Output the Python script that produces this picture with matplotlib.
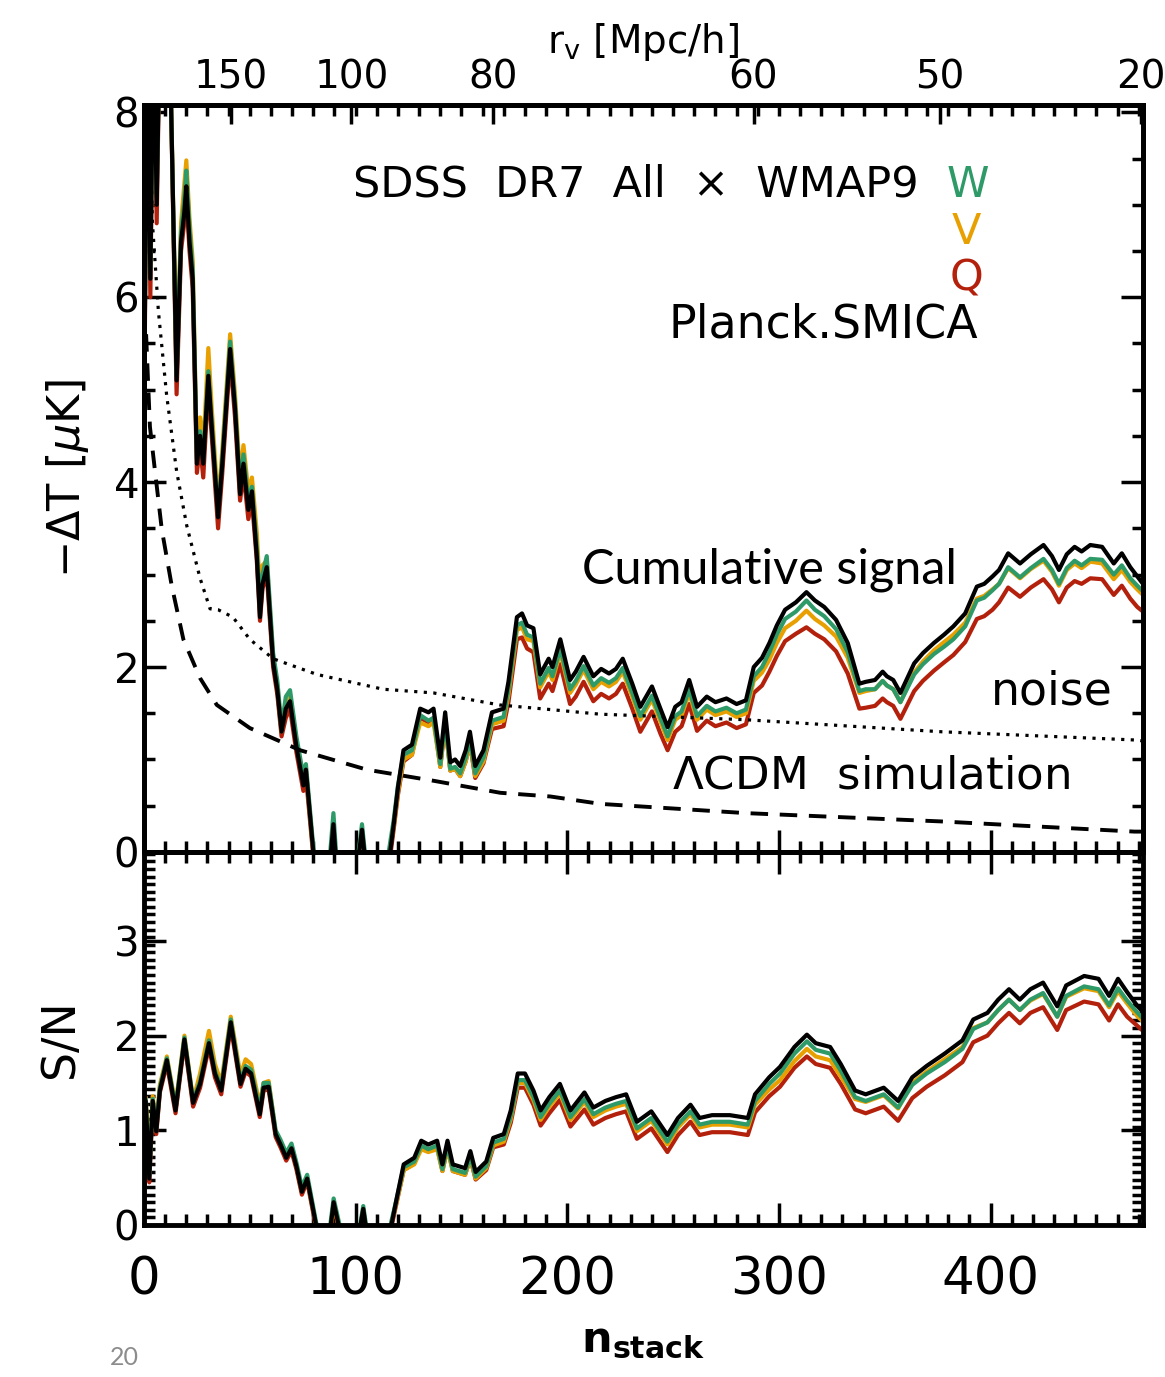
import numpy as np
import matplotlib.pyplot as plt
from matplotlib.ticker import MultipleLocator

# ---- data ----
# top panel: cumulative -dT [muK] vs n_stack
n_top = [0.0, 1.5, 3.0, 4.5, 6.0, 7.5, 9.5, 12.0, 15.4, 17.5, 19.0, 20.0, 21.5, 23.0, 25.0,
         26.5, 28.0, 30.4, 32.0, 35.0, 37.0, 40.7, 43.0, 45.4, 47.0, 49.3, 51.0, 53.3, 54.8,
         56.0, 58.0, 61.0, 63.0, 65.0, 67.0, 69.0, 72.0, 75.3, 76.5, 80.0, 82.0, 88.0, 89.5,
         91.0, 100.0, 103.0, 105.0, 114.0, 116.3, 118.0, 120.0, 122.6, 126.6, 128.0, 130.5,
         134.4, 136.8, 140.0, 142.3, 144.7, 147.0, 149.4, 152.0, 154.0, 156.5, 160.4, 164.4,
         169.9, 172.2, 176.2, 178.6, 181.0, 184.0, 187.2, 191.2, 193.0, 196.7, 201.3, 204.0,
         207.7, 212.3, 216.0, 219.7, 223.0, 226.2, 230.7, 234.5, 240.0, 244.0, 247.4, 251.0,
         254.0, 257.6, 261.3, 265.9, 270.0, 275.2, 280.0, 284.4, 288.1, 292.0, 295.5, 299.0,
         302.9, 308.0, 313.0, 317.0, 321.4, 327.0, 332.5, 338.0, 341.0, 345.4, 349.0, 351.0,
         354.0, 357.4, 363.9, 368.0, 373.2, 378.0, 382.4, 388.0, 393.5, 397.0, 400.9, 404.0,
         408.3, 413.9, 419.0, 425.0, 429.0, 432.3, 436.0, 439.7, 443.0, 447.1, 452.7, 458.2,
         462.0, 466.0, 469.3, 472.0]
dT_planck = [4.5, 9.0, 6.2, 9.0, 7.0, 9.0, 8.3, 9.0, 5.1, 6.6, 6.9, 7.2, 6.6, 6.2, 4.2,
             4.5, 4.2, 5.15, 4.6, 3.62, 4.2, 5.44, 4.8, 3.87, 4.2, 3.7, 3.9, 3.2, 2.54,
             2.9, 3.08, 2.05, 1.75, 1.30, 1.55, 1.63, 1.14, 0.72, 0.89, 0.0, -0.4, -0.1, 0.3,
             -0.2, -0.3, 0.24, -0.2, -0.3, 0.0, 0.3, 0.7, 1.1, 1.16, 1.3, 1.55,
             1.51, 1.55, 1.02, 1.51, 0.97, 1.0, 0.93, 1.1, 1.30, 0.93, 1.10, 1.51,
             1.55, 1.84, 2.54, 2.58, 2.45, 2.42, 1.92, 2.09, 2.0, 2.30, 1.86, 1.95,
             2.11, 1.90, 1.98, 1.93, 1.98, 2.09, 1.82, 1.57, 1.79, 1.55, 1.35, 1.57,
             1.62, 1.86, 1.57, 1.68, 1.62, 1.66, 1.60, 1.64, 2.0, 2.1, 2.26, 2.45,
             2.62, 2.70, 2.81, 2.72, 2.65, 2.51, 2.26, 1.82, 1.84, 1.86, 1.95, 1.90,
             1.86, 1.72, 2.04, 2.15, 2.26, 2.35, 2.44, 2.58, 2.87, 2.90, 2.98, 3.05,
             3.23, 3.12, 3.22, 3.32, 3.2, 3.05, 3.22, 3.30, 3.25, 3.32, 3.30, 3.12,
             3.23, 3.08, 2.98, 2.9]
dT_W = [4.55, 9.0, 6.3, 9.0, 7.1, 9.0, 8.4, 9.0, 5.15, 6.7, 7.05, 7.37, 6.75, 6.3, 4.25,
        4.55, 4.25, 5.2, 4.65, 3.65, 4.25, 5.52, 4.85, 3.95, 4.3, 3.8, 3.95, 3.3, 2.65,
        3.0, 3.2, 2.15, 1.85, 1.35, 1.68, 1.75, 1.25, 0.82, 0.95, 0.05, -0.35, 0.0, 0.42,
        -0.1, -0.25, 0.3, -0.15, -0.25, 0.1, 0.35, 0.72, 1.05, 1.1, 1.22, 1.48,
        1.42, 1.45, 0.95, 1.42, 0.9, 0.92, 0.85, 1.02, 1.22, 0.85, 1.02, 1.42,
        1.46, 1.75, 2.45, 2.48, 2.35, 2.32, 1.82, 1.99, 1.9, 2.2, 1.76, 1.85,
        2.01, 1.8, 1.88, 1.83, 1.88, 1.99, 1.72, 1.47, 1.69, 1.45, 1.25, 1.47,
        1.52, 1.76, 1.47, 1.58, 1.52, 1.56, 1.5, 1.54, 1.9, 2.0, 2.16, 2.35,
        2.52, 2.6, 2.72, 2.62, 2.55, 2.41, 2.16, 1.74, 1.76, 1.76, 1.85, 1.8,
        1.76, 1.62, 1.92, 2.03, 2.14, 2.22, 2.3, 2.44, 2.72, 2.75, 2.83, 2.9,
        3.08, 2.97, 3.07, 3.17, 3.05, 2.9, 3.07, 3.15, 3.1, 3.17, 3.16, 3.0,
        3.1, 2.96, 2.88, 2.82]
dT_V = [4.6, 9.0, 6.4, 9.0, 7.2, 9.0, 8.5, 9.0, 5.2, 6.8, 7.2, 7.48, 6.85, 6.4, 4.3,
        4.7, 4.35, 5.45, 4.8, 3.75, 4.35, 5.6, 4.95, 4.05, 4.4, 3.9, 4.05, 3.45, 2.8,
        3.1, 3.15, 2.1, 1.8, 1.3, 1.6, 1.7, 1.18, 0.75, 0.9, 0.0, -0.4, -0.1, 0.3,
        -0.2, -0.3, 0.2, -0.2, -0.3, 0.05, 0.28, 0.65, 1.0, 1.05, 1.18, 1.4,
        1.36, 1.4, 0.92, 1.38, 0.88, 0.9, 0.82, 0.98, 1.18, 0.82, 0.98, 1.38,
        1.42, 1.7, 2.4, 2.43, 2.3, 2.28, 1.78, 1.95, 1.86, 2.16, 1.72, 1.81,
        1.97, 1.76, 1.84, 1.79, 1.84, 1.95, 1.68, 1.43, 1.65, 1.41, 1.21, 1.43,
        1.48, 1.72, 1.43, 1.54, 1.48, 1.52, 1.46, 1.5, 1.85, 1.94, 2.08, 2.26,
        2.42, 2.5, 2.61, 2.52, 2.45, 2.33, 2.1, 1.72, 1.74, 1.76, 1.85, 1.8,
        1.76, 1.62, 1.94, 2.06, 2.18, 2.27, 2.35, 2.48, 2.74, 2.77, 2.84, 2.9,
        3.07, 2.96, 3.06, 3.15, 3.03, 2.88, 3.05, 3.12, 3.07, 3.14, 3.12, 2.95,
        3.05, 2.92, 2.84, 2.78]
dT_Q = [4.3, 9.0, 6.0, 9.0, 6.8, 9.0, 8.1, 9.0, 4.95, 6.5, 6.8, 7.1, 6.5, 6.1, 4.1,
        4.4, 4.05, 5.05, 4.5, 3.5, 4.1, 5.35, 4.7, 3.8, 4.1, 3.6, 3.8, 3.15, 2.5,
        2.85, 3.0, 2.0, 1.7, 1.25, 1.45, 1.55, 1.08, 0.66, 0.82, -0.05, -0.45, -0.15, 0.25,
        -0.25, -0.35, 0.18, -0.25, -0.35, -0.05, 0.25, 0.62, 0.98, 1.05, 1.2, 1.45,
        1.4, 1.45, 0.92, 1.4, 0.88, 0.9, 0.82, 0.98, 1.18, 0.8, 0.96, 1.33,
        1.36, 1.62, 2.3, 2.32, 2.2, 2.16, 1.66, 1.82, 1.74, 2.03, 1.6, 1.68,
        1.84, 1.63, 1.71, 1.66, 1.71, 1.82, 1.55, 1.3, 1.52, 1.28, 1.1, 1.3,
        1.36, 1.6, 1.31, 1.42, 1.36, 1.4, 1.34, 1.38, 1.72, 1.8, 1.95, 2.12,
        2.28, 2.36, 2.43, 2.36, 2.3, 2.17, 1.93, 1.55, 1.56, 1.58, 1.66, 1.62,
        1.58, 1.44, 1.74, 1.85, 1.96, 2.05, 2.13, 2.27, 2.52, 2.55, 2.62, 2.7,
        2.86, 2.76, 2.86, 2.95, 2.84, 2.7, 2.86, 2.93, 2.9, 2.96, 2.95, 2.78,
        2.88, 2.74, 2.65, 2.6]

n_noise = [2, 4, 6.8, 10.7, 15.4, 20.2, 26.5, 31.2, 35, 42, 50, 61, 81.7, 113, 136.8, 168,
           192, 215.6, 284.4, 376.8, 469.3, 472]
noise = [8.6, 6.8, 5.85, 4.94, 4.12, 3.53, 2.96, 2.63, 2.62, 2.54, 2.30, 2.09, 1.92, 1.76,
         1.72, 1.59, 1.54, 1.49, 1.43, 1.30, 1.21, 1.20]
n_lcdm = [1, 2.8, 5.2, 8.4, 13.1, 18.6, 26.5, 34.4, 50, 73.8, 105.3, 136.8, 168.3, 192,
          215.6, 284.4, 376.8, 468, 472]
lcdm = [5.6, 4.6, 4.12, 3.49, 2.88, 2.30, 1.88, 1.59, 1.34, 1.10, 0.89, 0.77, 0.64, 0.60,
        0.52, 0.42, 0.33, 0.22, 0.22]

# bottom panel: S/N vs n_stack
n_sn = [0.0, 0.8, 2.5, 4.1, 5.8, 7.5, 10.8, 14.9, 19.1, 23.2, 26.5, 30.7, 33.5, 36.5, 41.0,
        45.6, 48.0, 50.6, 54.7, 56.5, 58.9, 62.2, 64.5, 67.2, 69.7, 72.0, 74.6, 77.1, 81.3,
        85.0, 88.0, 89.6, 92.9, 100.0, 103.6, 105.3, 114.0, 116.9, 119.4, 122.7, 127.7,
        131.0, 134.3, 138.5, 141.0, 143.4, 145.9, 151.7, 154.2, 156.7, 161.7, 165.0, 170.0,
        173.3, 176.6, 180.0, 184.0, 187.4, 191.5, 196.5, 201.5, 208.1, 212.3, 218.0, 223.0,
        227.8, 232.9, 239.7, 247.3, 252.3, 258.2, 262.5, 268.4, 276.8, 285.3, 288.7, 295.4,
        300.5, 307.3, 313.2, 317.4, 324.2, 329.2, 336.0, 341.0, 349.5, 356.3, 363.0, 369.8,
        378.3, 386.7, 391.8, 398.5, 403.6, 408.7, 413.8, 418.8, 424.8, 431.5, 435.7, 444.2,
        451.0, 456.0, 460.2, 464.5, 469.5, 472.0]
sn_planck = [0.24, 1.31, 0.49, 1.31, 0.99, 1.42, 1.74, 1.21, 1.96, 1.29, 1.49, 1.92, 1.6, 1.42, 2.14,
             1.49, 1.65, 1.6, 1.17, 1.45, 1.46, 0.96, 0.85, 0.71, 0.81, 0.62, 0.35, 0.49, 0.0,
             -0.3, -0.05, 0.24, -0.1, -0.3, 0.17, -0.1, -0.3, 0.0, 0.28, 0.64, 0.71,
             0.89, 0.85, 0.89, 0.64, 0.89, 0.64, 0.6, 0.78, 0.56, 0.67, 0.92, 0.96,
             1.21, 1.6, 1.6, 1.42, 1.21, 1.35, 1.49, 1.21, 1.40, 1.24, 1.31, 1.35,
             1.38, 1.09, 1.2, 0.95, 1.13, 1.27, 1.13, 1.16, 1.16, 1.13, 1.38, 1.56,
             1.67, 1.88, 2.01, 1.92, 1.88, 1.70, 1.42, 1.38, 1.45, 1.31, 1.56, 1.68,
             1.81, 1.95, 2.17, 2.24, 2.38, 2.49, 2.38, 2.49, 2.56, 2.31, 2.53, 2.63,
             2.60, 2.42, 2.60, 2.46, 2.31, 2.25]
sn_W = [0.28, 1.33, 0.52, 1.33, 1.02, 1.45, 1.76, 1.24, 1.98, 1.31, 1.52, 1.95, 1.63, 1.45, 2.17,
        1.52, 1.68, 1.64, 1.22, 1.5, 1.5, 1.0, 0.9, 0.76, 0.86, 0.66, 0.4, 0.53, 0.03,
        -0.28, 0.0, 0.28, -0.05, -0.28, 0.2, -0.06, -0.28, 0.04, 0.28, 0.61, 0.67,
        0.84, 0.8, 0.84, 0.59, 0.84, 0.59, 0.55, 0.73, 0.51, 0.62, 0.87, 0.91,
        1.15, 1.53, 1.53, 1.35, 1.14, 1.28, 1.42, 1.14, 1.33, 1.17, 1.24, 1.28,
        1.31, 1.02, 1.13, 0.88, 1.06, 1.2, 1.06, 1.09, 1.09, 1.06, 1.31, 1.49,
        1.6, 1.81, 1.94, 1.85, 1.81, 1.63, 1.35, 1.31, 1.38, 1.24, 1.48, 1.6,
        1.72, 1.86, 2.07, 2.14, 2.27, 2.38, 2.27, 2.38, 2.45, 2.2, 2.42, 2.52,
        2.49, 2.32, 2.5, 2.37, 2.24, 2.18]
sn_V = [0.3, 1.35, 0.55, 1.36, 1.05, 1.48, 1.78, 1.26, 2.0, 1.32, 1.6, 2.05, 1.7, 1.5, 2.2,
        1.58, 1.75, 1.7, 1.27, 1.5, 1.52, 0.98, 0.87, 0.72, 0.82, 0.63, 0.36, 0.5, 0.0,
        -0.3, -0.05, 0.22, -0.1, -0.3, 0.15, -0.1, -0.3, 0.02, 0.25, 0.58, 0.64,
        0.8, 0.77, 0.8, 0.57, 0.8, 0.57, 0.53, 0.7, 0.49, 0.6, 0.84, 0.88,
        1.12, 1.5, 1.5, 1.32, 1.11, 1.25, 1.39, 1.11, 1.3, 1.14, 1.21, 1.25,
        1.28, 0.99, 1.1, 0.85, 1.03, 1.17, 1.03, 1.06, 1.06, 1.03, 1.27, 1.43,
        1.53, 1.73, 1.86, 1.78, 1.74, 1.57, 1.33, 1.3, 1.37, 1.23, 1.5, 1.62,
        1.75, 1.88, 2.08, 2.14, 2.27, 2.38, 2.27, 2.37, 2.44, 2.2, 2.41, 2.5,
        2.47, 2.3, 2.47, 2.34, 2.2, 2.15]
sn_Q = [0.2, 1.3, 0.45, 1.28, 0.96, 1.4, 1.7, 1.18, 1.93, 1.25, 1.45, 1.88, 1.56, 1.38, 2.1,
        1.46, 1.62, 1.57, 1.14, 1.42, 1.43, 0.93, 0.82, 0.68, 0.78, 0.59, 0.32, 0.46, -0.03,
        -0.32, -0.08, 0.2, -0.12, -0.32, 0.14, -0.12, -0.32, -0.02, 0.24, 0.58, 0.65,
        0.82, 0.78, 0.82, 0.57, 0.82, 0.57, 0.53, 0.7, 0.48, 0.58, 0.82, 0.85,
        1.08, 1.45, 1.45, 1.27, 1.05, 1.18, 1.32, 1.04, 1.22, 1.06, 1.13, 1.17,
        1.2, 0.91, 1.02, 0.77, 0.95, 1.09, 0.95, 0.98, 0.98, 0.95, 1.19, 1.36,
        1.46, 1.66, 1.78, 1.7, 1.66, 1.49, 1.22, 1.18, 1.25, 1.1, 1.34, 1.46,
        1.58, 1.72, 1.93, 2.0, 2.13, 2.24, 2.13, 2.24, 2.3, 2.06, 2.27, 2.36,
        2.33, 2.16, 2.33, 2.2, 2.1, 2.05]

# top axis: void radius r_v labels at their n_stack positions
rv_pos = [41, 98, 165, 288, 376, 471]
rv_labels = ['150', '100', '80', '60', '50', '20']

c_W = '#2e9a68'
c_V = '#e8a000'
c_Q = '#b3210c'

plt.rcParams['font.family'] = ['DejaVu Sans']


def style_axis(ax):
  for s in ax.spines.values():
    s.set_linewidth(3.5)
  ax.xaxis.set_major_locator(MultipleLocator(100))
  ax.xaxis.set_minor_locator(MultipleLocator(10))
  ax.tick_params(which='both', direction='in', top=True, right=True, width=2.5)
  ax.tick_params(which='major', length=16, labelsize=29)
  ax.tick_params(which='minor', length=8)
  ax.set_xlim(0, 472)


def main():
  fig = plt.figure(figsize=(11.65, 13.77), dpi=100)
  ax1 = fig.add_axes([0.1236, 0.3813, 0.8575, 0.5425])
  ax2 = fig.add_axes([0.1236, 0.1104, 0.8575, 0.2709])

  # ---- top panel ----
  lw = 3.0
  ax1.plot(n_top, dT_Q, color=c_Q, lw=lw)
  ax1.plot(n_top, dT_V, color=c_V, lw=lw)
  ax1.plot(n_top, dT_W, color=c_W, lw=lw)
  ax1.plot(n_top, dT_planck, color='black', lw=lw)
  ax1.plot(n_noise, noise, color='black', lw=2.3, linestyle=(0, (1, 2.0)))
  ax1.plot(n_lcdm, lcdm, color='black', lw=2.8, linestyle=(0, (4.5, 3.0)))
  style_axis(ax1)
  ax1.set_ylim(0, 8.08)
  ax1.yaxis.set_major_locator(MultipleLocator(2))
  ax1.yaxis.set_minor_locator(MultipleLocator(0.5))
  ax1.tick_params(axis='x', labelbottom=False, top=False)
  ax1.set_ylabel(r'$-\Delta$T [$\mu$K]', fontsize=32, labelpad=16)

  top = ax1.twiny()
  top.set_xlim(0, 472)
  top.set_xticks(rv_pos)
  top.set_xticklabels(rv_labels)
  top.xaxis.set_minor_locator(MultipleLocator(10))
  top.tick_params(which='major', direction='in', length=14, width=2.5, labelsize=28, pad=6)
  top.tick_params(which='minor', direction='in', length=8, width=2.5)
  for s in top.spines.values():
    s.set_linewidth(3.5)
  top.set_xlabel(r'r$_\mathrm{v}$ [Mpc/h]', fontsize=28, labelpad=4)

  tr = ax1.transAxes
  ax1.text(0.775, 0.893, 'SDSS  DR7  All  \u00d7  WMAP9', transform=tr, fontsize=31,
           ha='right', va='center')
  ax1.text(0.825, 0.893, 'W', transform=tr, fontsize=31, color=c_W, ha='center', va='center')
  ax1.text(0.823, 0.830, 'V', transform=tr, fontsize=31, color=c_V, ha='center', va='center')
  ax1.text(0.823, 0.768, 'Q', transform=tr, fontsize=31, color=c_Q, ha='center', va='center')
  ax1.text(0.835, 0.706, 'Planck.SMICA', transform=tr, fontsize=33, ha='right', va='center')
  ax1.text(0.438, 0.378, 'Cumulative signal', transform=tr, fontsize=35, ha='left',
           va='center', family=['Lato', 'DejaVu Sans'])
  ax1.text(0.97, 0.214, 'noise', transform=tr, fontsize=33, ha='right', va='center')
  ax1.text(0.927, 0.102, r'$\Lambda$CDM  simulation', transform=tr, fontsize=32.5,
           ha='right', va='center')

  # ---- bottom panel ----
  ax2.plot(n_sn, sn_Q, color=c_Q, lw=lw)
  ax2.plot(n_sn, sn_V, color=c_V, lw=lw)
  ax2.plot(n_sn, sn_W, color=c_W, lw=lw)
  ax2.plot(n_sn, sn_planck, color='black', lw=lw)
  style_axis(ax2)
  ax2.set_ylim(0, 3.94)
  ax2.yaxis.set_major_locator(MultipleLocator(1))
  ax2.yaxis.set_minor_locator(MultipleLocator(0.08))
  ax2.tick_params(axis='x', labelsize=37, pad=22)
  ax2.set_ylabel('S/N', fontsize=33, labelpad=22)
  ax2.set_xlabel(r'n$_\mathbf{stack}$', fontsize=31, fontweight='bold', labelpad=10)

  fig.text(0.107, 0.006, '20', fontsize=18, color='#8c8c8c', ha='center', va='bottom',
           family=['Lato', 'DejaVu Sans'])

  plt.savefig('out.png', dpi=100)


if __name__ == "__main__":
  main()
